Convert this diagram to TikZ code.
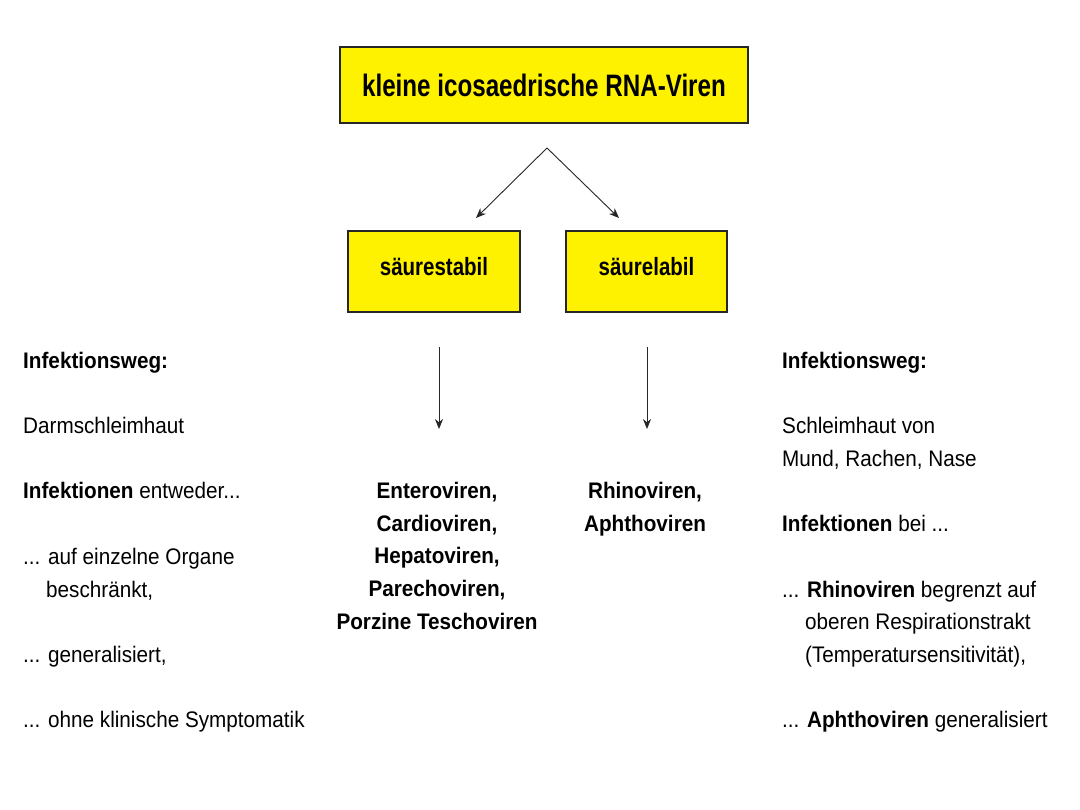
\documentclass[tikz,border=0pt]{standalone}
\usepackage{fontspec}
\setmainfont{Liberation Sans}[FakeStretch=0.92]
\newfontfamily\titlefont{Liberation Sans}[FakeStretch=0.78]
\newfontfamily\boxfont{Liberation Sans}[FakeStretch=0.82]
\usetikzlibrary{arrows.meta}

\begin{document}
\begin{tikzpicture}[x=1pt, y=-1pt,
    >={Stealth[length=10pt, width=8pt]},
    gelbbox/.style={draw=black!85, line width=1.1pt, fill=yellow, inner sep=0pt},
    pfeil/.style={->, black!85, line width=0.9pt},
    spalte/.style={anchor=north west, align=left, inner sep=0pt,
        font=\fontsize{22.5}{32.7}\selectfont},
    gruppe/.style={anchor=north, align=center, inner sep=0pt,
        font=\fontsize{22.5}{32.7}\selectfont\bfseries}]
        \useasboundingbox[fill=white] (0,0) rectangle (1080,810);

        % Oberbegriff
        \node[gelbbox, minimum width=408pt, minimum height=76pt,
            font=\titlefont\fontsize{31}{36}\selectfont\bfseries]
            (viren) at (544,85) {kleine icosaedrische RNA-Viren};

        % saeurestabil / saeurelabil
        \node[gelbbox, minimum width=172pt, minimum height=81pt, text depth=11pt,
            font=\boxfont\fontsize{25}{30}\selectfont\bfseries]
            (stabil) at (434,271.5) {säurestabil};
        \node[gelbbox, minimum width=161pt, minimum height=81pt, text depth=11pt,
            font=\boxfont\fontsize{25}{30}\selectfont\bfseries]
            (labil) at (646.5,271.5) {säurelabil};

        % Verzweigung
        \coordinate (gabel) at (547,148);
        \coordinate (gabelL) at (476,218);
        \coordinate (gabelR) at (619,218);
        \draw[pfeil] (gabel) -- (gabelL);
        \draw[pfeil] (gabel) -- (gabelR);

        % Gattungen (erste Grundlinie bei 498)
        \node[gruppe] (entero) at (437,482)
            {Enteroviren,\\Cardioviren,\\Hepatoviren,\\Parechoviren,\\Porzine Teschoviren};
        \node[gruppe] (rhino) at (645,482) {Rhinoviren,\\Aphthoviren};

        \coordinate (stabilAus) at (439,347);
        \coordinate (labilAus) at (647,347);
        \coordinate (enteroEin) at (439,429);
        \coordinate (rhinoEin) at (647,429);
        \draw[pfeil] (stabilAus) -- (enteroEin);
        \draw[pfeil] (labilAus) -- (rhinoEin);

        % linke Spalte (erste Grundlinie bei 368)
        \node[spalte] (links) at (23,351.6)
            {\textbf{Infektionsweg:}\\[32.7pt]
             Darmschleimhaut\\[32.7pt]
             \textbf{Infektionen} entweder...\\[32.7pt]
             ... auf einzelne Organe\\
             \phantom{...\ }beschränkt,\\[32.7pt]
             ... generalisiert,\\[32.7pt]
             ... ohne klinische Symptomatik};

        % rechte Spalte
        \node[spalte] (rechts) at (782,351.6)
            {\textbf{Infektionsweg:}\\[32.7pt]
             Schleimhaut von\\
             Mund, Rachen, Nase\\[32.7pt]
             \textbf{Infektionen} bei ...\\[32.7pt]
             ... \textbf{Rhinoviren} begrenzt auf\\
             \phantom{...\ }oberen Respirationstrakt\\
             \phantom{...\ }(Temperatursensitivität),\\[32.7pt]
             ... \textbf{Aphthoviren} generalisiert};
\end{tikzpicture}
\end{document}
